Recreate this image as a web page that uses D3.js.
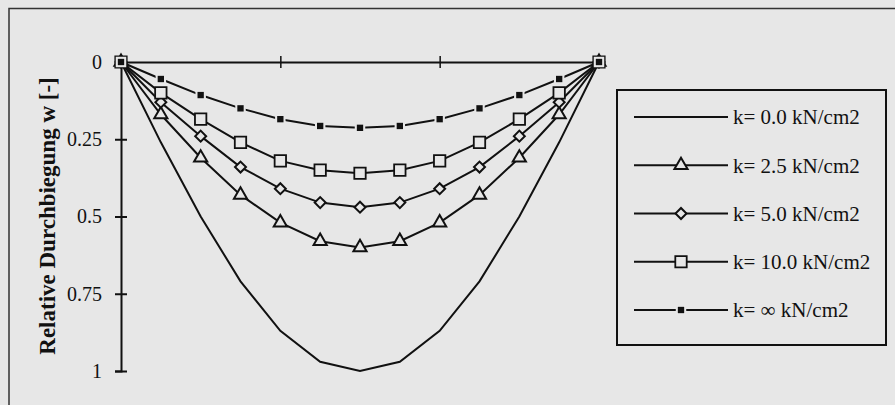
<!DOCTYPE html>
<html>
<head>
<meta charset="utf-8">
<script src="https://cdn.jsdelivr.net/npm/d3@7"></script>
<style>
  body { margin: 0; background: #e7e7e7; }
  svg { display: block; }
  text { font-family: "Liberation Serif", "DejaVu Serif", serif; fill: #111; }
</style>
</head>
<body>
<svg id="chart"></svg>
<script>
// stations along the beam (0..12)
const stations = [0, 1, 2, 3, 4, 5, 6, 7, 8, 9, 10, 11, 12];

// relative deflection per bedding modulus
const w_k0 = [0, 0.26, 0.5, 0.71, 0.87, 0.97, 1.0, 0.97, 0.87, 0.71, 0.5, 0.26, 0];
const w_k25 = [0, 0.17, 0.31, 0.43, 0.52, 0.58, 0.60, 0.58, 0.52, 0.43, 0.31, 0.17, 0];
const w_k5 = [0, 0.13, 0.24, 0.34, 0.41, 0.455, 0.47, 0.455, 0.41, 0.34, 0.24, 0.13, 0];
const w_k10 = [0, 0.10, 0.185, 0.26, 0.32, 0.35, 0.36, 0.35, 0.32, 0.26, 0.185, 0.10, 0];
const w_kInf = [0, 0.055, 0.107, 0.15, 0.185, 0.207, 0.213, 0.207, 0.185, 0.15, 0.107, 0.055, 0];

const seriesLabels = ["k= 0.0 kN/cm2", "k= 2.5 kN/cm2", "k= 5.0 kN/cm2", "k= 10.0 kN/cm2", "k= \u221e kN/cm2"];
const seriesMarkers = ["none", "triangle", "diamond", "square", "filled"];
const yTicks = [0, 0.25, 0.5, 0.75, 1];
const yTickLabels = ["0", "0.25", "0.5", "0.75", "1"];
const xTicks = [4, 8];

const series = [w_k0, w_k25, w_k5, w_k10, w_kInf].map((vals, i) => ({
  label: seriesLabels[i],
  marker: seriesMarkers[i],
  points: stations.map((s, j) => ({ x: s, y: vals[j] }))
}));

const width = 895;
const height = 405;
const bg = "#e7e7e7";

const svg = d3.select("#chart")
  .attr("width", width)
  .attr("height", height);

// outer frame (only top and left edges show in the crop)
svg.append("path")
  .attr("d", `M9,${height} V8.5 H${width}`)
  .attr("fill", "none")
  .attr("stroke", "#333")
  .attr("stroke-width", 1.5);

const x = d3.scaleLinear().domain([0, 12]).range([121, 599]);
const y = d3.scaleLinear().domain([0, 1]).range([62, 371]);

// axes
const yAxis = svg.append("g")
  .attr("transform", `translate(${x(0)},0)`)
  .call(d3.axisLeft(y)
    .tickValues(yTicks)
    .tickFormat((d, i) => yTickLabels[i])
    .tickSizeOuter(0).tickSize(6).tickPadding(13));
yAxis.select(".domain").attr("stroke", "#111").attr("stroke-width", 2);
yAxis.selectAll(".tick line").attr("x1", -6).attr("x2", 6).attr("stroke", "#111").attr("stroke-width", 2);
yAxis.selectAll(".tick text")
  .style("font-family", "Liberation Serif, serif")
  .style("font-size", "20px")
  .attr("fill", "#111");

const xAxis = svg.append("g")
  .attr("transform", `translate(0,${y(0)})`)
  .call(d3.axisTop(x).tickValues(xTicks).tickFormat("").tickSizeOuter(0).tickSize(6));
xAxis.select(".domain").attr("stroke", "#111").attr("stroke-width", 2);
xAxis.selectAll(".tick line").attr("y1", -6).attr("y2", 6).attr("stroke", "#111").attr("stroke-width", 1.5);

// y title
svg.append("text")
  .attr("transform", `translate(55,216) rotate(-90)`)
  .attr("text-anchor", "middle")
  .style("font-size", "23px")
  .style("font-weight", "bold")
  .attr("fill", "#1a1a1a")
  .text("Relative Durchbiegung w [-]");

// marker drawing
function drawMarker(g, type) {
  if (type === "triangle") {
    g.append("path").attr("d", d3.symbol(d3.symbolTriangle, 75)())
      .attr("fill", bg).attr("stroke", "#111").attr("stroke-width", 2);
  } else if (type === "diamond") {
    g.append("path").attr("d", d3.symbol(d3.symbolSquare, 60)())
      .attr("transform", "rotate(45)")
      .attr("fill", bg).attr("stroke", "#111").attr("stroke-width", 2);
  } else if (type === "square") {
    g.append("path").attr("d", d3.symbol(d3.symbolSquare, 130)())
      .attr("fill", bg).attr("stroke", "#111").attr("stroke-width", 1.8);
  } else if (type === "filled") {
    g.append("path").attr("d", d3.symbol(d3.symbolSquare, 110)())
      .attr("fill", bg);
    g.append("path").attr("d", d3.symbol(d3.symbolSquare, 40)())
      .attr("fill", "#111");
  }
}

const line = d3.line().x(d => x(d.x)).y(d => y(d.y));

const plot = svg.append("g");
series.forEach(s => {
  const g = plot.append("g");
  g.append("path")
    .datum(s.points)
    .attr("d", line)
    .attr("fill", "none")
    .attr("stroke", "#111")
    .attr("stroke-width", 2);
  if (s.marker !== "none") {
    g.selectAll(".m")
      .data(s.points)
      .join("g")
      .attr("class", "m")
      .attr("transform", d => `translate(${x(d.x)},${y(d.y)})`)
      .each(function () { drawMarker(d3.select(this), s.marker); });
  }
});

// legend
const legend = svg.append("g");
legend.append("rect")
  .attr("x", 617).attr("y", 90)
  .attr("width", 269).attr("height", 255)
  .attr("fill", "none")
  .attr("stroke", "#111")
  .attr("stroke-width", 2);

const rowY = d3.scaleLinear().domain([0, 4]).range([117, 310]);
series.forEach((s, i) => {
  const row = legend.append("g").attr("transform", `translate(0,${rowY(i)})`);
  row.append("line")
    .attr("x1", 634).attr("x2", 728)
    .attr("stroke", "#111").attr("stroke-width", 2);
  const m = row.append("g").attr("transform", "translate(681,0)");
  drawMarker(m, s.marker);
  row.append("text")
    .attr("x", 733)
    .attr("dy", "0.35em")
    .style("font-size", "21px")
    .text(s.label);
});
</script>
</body>
</html>
